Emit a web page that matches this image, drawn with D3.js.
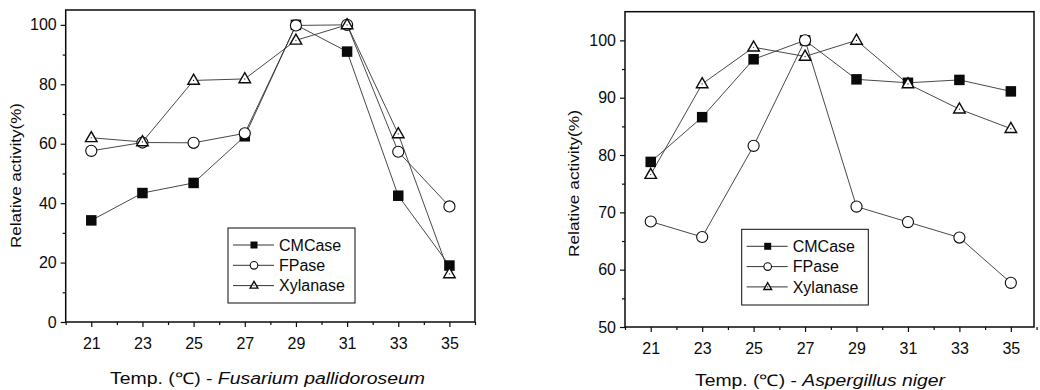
<!DOCTYPE html>
<html>
<head>
<meta charset="utf-8">
<script src="https://cdn.jsdelivr.net/npm/d3@7"></script>
<style>
  body { margin: 0; background: #fff; }
  svg { display: block; font-family: "Liberation Sans", Arial, sans-serif; }
</style>
</head>
<body>
<svg id="svg" width="1040" height="390"></svg>
<script>
// temperatures (°C)
const temps = [21, 23, 25, 27, 29, 31, 33, 35];
const seriesNames = ['CMCase', 'FPase', 'Xylanase'];

// Fusarium pallidoroseum, relative activity (%)
const fusCMCase = [34.2, 43.4, 46.8, 62.5, 100, 91.0, 42.5, 19.0];
const fusFPase = [57.6, 60.4, 60.3, 63.5, 99.8, 100, 57.3, 38.9];
const fusXylanase = [62.0, 60.6, 81.3, 81.8, 94.8, 100, 63.3, 16.2];

// Aspergillus niger, relative activity (%)
const aspCMCase = [78.8, 86.6, 96.7, 100, 93.2, 92.6, 93.1, 91.1];
const aspFPase = [68.4, 65.7, 81.6, 100, 71.0, 68.3, 65.6, 57.7];
const aspXylanase = [76.6, 92.4, 98.8, 97.2, 100, 92.4, 88.0, 84.6];

// tick values
const xMajor = [21, 23, 25, 27, 29, 31, 33, 35];
const xMinor = [20, 22, 24, 26, 28, 30, 32, 34, 36];
const fusYMajor = [0, 20, 40, 60, 80, 100];
const fusYMinor = [10, 30, 50, 70, 90];
const aspYMajor = [50, 60, 70, 80, 90, 100];
const aspYMinor = [55, 65, 75, 85, 95];

const panels = [
  {
    left: 65.7, right: 475, top: 10, bottom: 322,
    xDomain: [20, 36], yDomain: [0, 105],
    yMajor: fusYMajor, yMinor: fusYMinor,
    data: [fusCMCase, fusFPase, fusXylanase],
    species: 'Fusarium pallidoroseum',
    xTitle: { x: 110, y: 384, len: 315 },
    yTitle: { x: 21, y: 175.5, len: 145 },
    legend: { x: 228, y: 228, w: 127, h: 75 }
  },
  {
    left: 625, right: 1034, top: 11.7, bottom: 327,
    xDomain: [20, 35.9], yDomain: [50, 105],
    yMajor: aspYMajor, yMinor: aspYMinor,
    data: [aspCMCase, aspFPase, aspXylanase],
    species: 'Aspergillus niger',
    xTitle: { x: 695, y: 386, len: 250 },
    yTitle: { x: 579, y: 183.5, len: 147 },
    legend: { x: 741.7, y: 229.3, w: 126.6, h: 75.7 }
  }
];

const svg = d3.select('#svg');
const ink = '#0a0a0a';

function marker(sel, kind, size) {
  if (kind === 0) {
    sel.append('rect')
      .attr('x', -size / 2).attr('y', -size / 2)
      .attr('width', size).attr('height', size)
      .attr('fill', ink);
  } else if (kind === 1) {
    sel.append('circle').attr('r', size / 2 + 0.3)
      .attr('fill', '#fff').attr('stroke', ink).attr('stroke-width', 1.1);
  } else {
    const s = size * 1.1;
    const h = s * 0.87;
    sel.append('path')
      .attr('d', `M0,${-h * 0.62}L${s / 2},${h * 0.38}L${-s / 2},${h * 0.38}Z`)
      .attr('fill', '#fff').attr('stroke', ink).attr('stroke-width', 1.4);
    sel.append('circle').attr('r', 0.6).attr('fill', ink);
  }
}

panels.forEach(p => {
  const x = d3.scaleLinear().domain(p.xDomain).range([p.left, p.right]);
  const y = d3.scaleLinear().domain(p.yDomain).range([p.bottom, p.top]);
  const g = svg.append('g');

  // axes
  g.append('g').attr('transform', `translate(0,${p.bottom})`)
    .call(d3.axisBottom(x).tickValues(xMajor).tickSize(5).tickPadding(11).tickFormat(d3.format('d')));
  g.append('g').attr('transform', `translate(0,${p.bottom})`)
    .call(d3.axisBottom(x).tickValues(xMinor).tickSize(3).tickFormat(''));
  g.append('g').attr('transform', `translate(${p.left},0)`)
    .call(d3.axisLeft(y).tickValues(p.yMajor).tickSize(5).tickPadding(4).tickFormat(d3.format('d')));
  g.append('g').attr('transform', `translate(${p.left},0)`)
    .call(d3.axisLeft(y).tickValues(p.yMinor).tickSize(3).tickFormat(''));
  g.selectAll('.domain').remove();
  g.selectAll('.tick line').attr('stroke', ink).attr('stroke-width', 1.2);
  g.selectAll('.tick text').attr('fill', ink).attr('font-size', 16)
    .attr('font-family', '"Liberation Sans", Arial, sans-serif');

  // frame
  g.append('rect')
    .attr('x', p.left).attr('y', p.top)
    .attr('width', p.right - p.left).attr('height', p.bottom - p.top)
    .attr('fill', 'none').attr('stroke', ink).attr('stroke-width', 1.5);

  // series lines
  const line = d3.line().x((d, i) => x(temps[i])).y(d => y(d));
  p.data.forEach(vals => {
    g.append('path').datum(vals).attr('d', line)
      .attr('fill', 'none').attr('stroke', '#333').attr('stroke-width', 0.9);
  });
  // markers
  p.data.forEach((vals, k) => {
    g.selectAll(null).data(vals).enter().append('g')
      .attr('transform', (d, i) => `translate(${x(temps[i])},${y(d)})`)
      .each(function () { marker(d3.select(this), k, 10.5); });
  });

  // legend
  const lg = g.append('g').attr('transform', `translate(${p.legend.x},${p.legend.y})`);
  lg.append('rect').attr('width', p.legend.w).attr('height', p.legend.h)
    .attr('fill', '#fff').attr('stroke', ink).attr('stroke-width', 1);
  seriesNames.forEach((name, k) => {
    const row = lg.append('g').attr('transform', `translate(0,${17 + k * 20.3})`);
    row.append('line').attr('x1', 5).attr('x2', 46).attr('stroke', '#333').attr('stroke-width', 1);
    const m = row.append('g').attr('transform', 'translate(26,0)');
    marker(m, k, 7);
    row.append('text').attr('x', 51).attr('dy', '0.36em')
      .attr('font-size', 16).attr('fill', ink).text(name);
  });

  // axis titles
  const xt = g.append('text').attr('x', p.xTitle.x).attr('y', p.xTitle.y)
    .attr('font-size', 16).attr('fill', ink)
    .attr('textLength', p.xTitle.len).attr('lengthAdjust', 'spacingAndGlyphs');
  xt.append('tspan').text('Temp.  (℃) - ');
  xt.append('tspan').attr('font-style', 'italic').text(p.species);

  g.append('text')
    .attr('transform', `translate(${p.yTitle.x},${p.yTitle.y}) rotate(-90)`)
    .attr('text-anchor', 'middle').attr('font-size', 15).attr('fill', ink)
    .attr('textLength', p.yTitle.len).attr('lengthAdjust', 'spacingAndGlyphs')
    .text('Relative activity(%)');
});
</script>
</body>
</html>
